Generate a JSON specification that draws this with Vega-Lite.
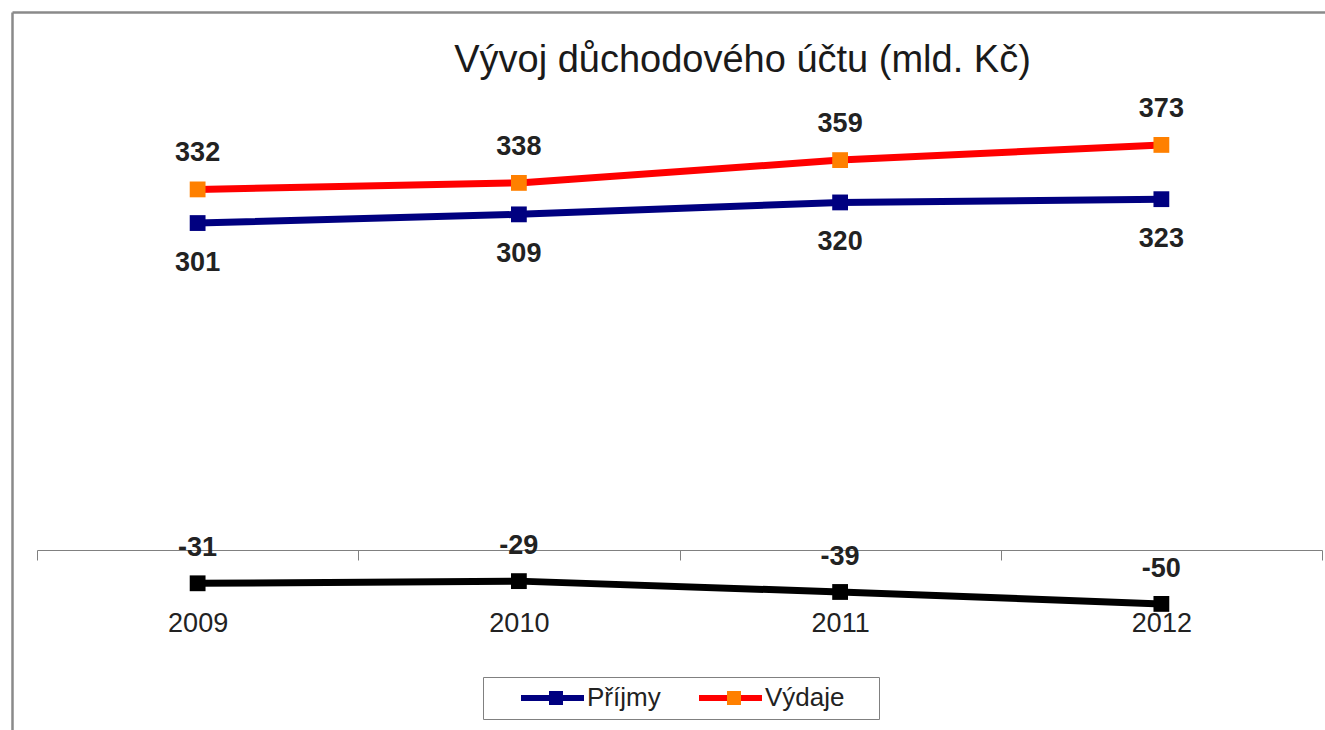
{
  "$schema": "https://vega.github.io/schema/vega-lite/v6.json",
  "autosize": {"type": "none"},
  "padding": {"left": 12, "top": 12, "right": 0, "bottom": 0},
  "width": 1313,
  "height": 718,
  "background": "white",
  "title": {
    "text": "Vývoj důchodového účtu (mld. Kč)",
    "font": "Liberation Sans",
    "fontSize": 38,
    "fontWeight": "normal",
    "color": "#1a1a1a",
    "anchor": "middle",
    "frame": "group",
    "dx": 74,
    "offset": -68
  },
  "data": {
    "values": [
      {"year": "2009", "series": "Příjmy", "value": 301},
      {"year": "2010", "series": "Příjmy", "value": 309},
      {"year": "2011", "series": "Příjmy", "value": 320},
      {"year": "2012", "series": "Příjmy", "value": 323},
      {"year": "2009", "series": "Výdaje", "value": 332},
      {"year": "2010", "series": "Výdaje", "value": 338},
      {"year": "2011", "series": "Výdaje", "value": 359},
      {"year": "2012", "series": "Výdaje", "value": 373},
      {"year": "2009", "series": "Saldo", "value": -31},
      {"year": "2010", "series": "Saldo", "value": -29},
      {"year": "2011", "series": "Saldo", "value": -39},
      {"year": "2012", "series": "Saldo", "value": -50}
    ]
  },
  "resolve": {"scale": {"x": "independent"}, "axis": {"x": "independent"}},
  "layer": [
    {
      "encoding": {
        "x": {
          "field": "year",
          "type": "ordinal",
          "scale": {"type": "band", "range": [25, 1310], "paddingInner": 0, "paddingOuter": 0},
          "axis": {
            "title": null,
            "grid": false,
            "gridColor": "transparent",
            "gridOpacity": 0,
            "gridWidth": 0,
            "orient": "bottom",
            "offset": -180,
            "tickBand": "extent",
            "domainColor": "#808080",
            "domainWidth": 1,
            "tickColor": "#808080",
            "tickWidth": 1,
            "tickSize": 10,
            "labelAngle": 0,
            "labelFont": "Liberation Sans",
            "labelFontSize": 27,
            "labelColor": "#222222",
            "labelPadding": 50
          }
        },
        "y": {
          "field": "value",
          "type": "quantitative",
          "scale": {"domain": [-166.2, 495.5], "nice": false, "zero": false},
          "axis": {
            "orient": "left",
            "title": null,
            "grid": false,
            "ticks": false,
            "labels": false,
            "domain": true,
            "domainColor": "#8a8a8a",
            "domainWidth": 2.5
          }
        }
      },
      "layer": [
        {
          "mark": {"type": "line", "strokeWidth": 7},
          "encoding": {
            "stroke": {
              "field": "series",
              "type": "nominal",
              "scale": {"domain": ["Příjmy", "Výdaje", "Saldo"], "range": ["#000080", "#FF0000", "#000000"]},
              "legend": {
                "title": ".",
                "titleOrient": "right",
                "titleColor": "transparent",
                "titleFontSize": 10,
                "titlePadding": 24,
                "orient": "none",
                "legendX": 471,
                "legendY": 665,
                "direction": "horizontal",
                "values": ["Příjmy", "Výdaje"],
                "padding": 8,
                "strokeColor": "#808080",
                "columnPadding": 8,
                "clipHeight": 26,
                "symbolType": "M-1,0M-0.386,0H0.25M0.568,0H1.045",
                "symbolSize": 7744,
                "symbolStrokeWidth": 6,
                "symbolFillColor": "transparent",
                "symbolOffset": 0,
                "labelOffset": 2,
                "labelFont": "Liberation Sans",
                "labelFontSize": 26,
                "labelColor": "#222222"
              }
            }
          }
        },
        {
          "mark": {"type": "point", "shape": "square", "filled": true, "size": 250, "opacity": 1},
          "encoding": {
            "fill": {
              "field": "series",
              "type": "nominal",
              "scale": {"domain": ["Saldo", "Příjmy", "Výdaje"], "range": ["#000000", "#000080", "#FF8000"]},
              "legend": {
                "title": null,
                "orient": "none",
                "legendX": 471,
                "legendY": 665,
                "direction": "horizontal",
                "values": ["Příjmy", "Výdaje"],
                "padding": 8,
                "columnPadding": 8,
                "clipHeight": 26,
                "symbolType": "M-1,0M0.25,-0.159H0.568V0.159H0.25Z",
                "symbolSize": 7744,
                "symbolStrokeWidth": 6,
                "symbolStrokeColor": "transparent",
                "symbolOpacity": 1,
                "symbolOffset": 0,
                "labelOffset": 2,
                "labelFont": "Liberation Sans",
                "labelFontSize": 26,
                "labelColor": "transparent"
              }
            }
          }
        },
        {
          "transform": [{"filter": "datum.series == 'Výdaje'"}],
          "mark": {"type": "text", "dy": -36, "fontSize": 27, "fontWeight": "bold", "font": "Liberation Sans", "color": "#222222"},
          "encoding": {"text": {"field": "value", "type": "nominal"}}
        },
        {
          "transform": [{"filter": "datum.series == 'Příjmy'"}],
          "mark": {"type": "text", "dy": 40, "fontSize": 27, "fontWeight": "bold", "font": "Liberation Sans", "color": "#222222"},
          "encoding": {"text": {"field": "value", "type": "nominal"}}
        },
        {
          "transform": [{"filter": "datum.series == 'Saldo'"}],
          "mark": {"type": "text", "dy": -35, "fontSize": 27, "fontWeight": "bold", "font": "Liberation Sans", "color": "#222222"},
          "encoding": {"text": {"field": "value", "type": "nominal"}}
        }
      ]
    },
    {
      "mark": {"type": "point", "opacity": 0},
      "encoding": {
        "x": {
          "field": "value",
          "type": "quantitative",
          "scale": {"domain": [-100, 400], "nice": false, "zero": false},
          "axis": {
            "orient": "top",
            "title": null,
            "grid": false,
            "ticks": false,
            "labels": false,
            "domain": true,
            "domainColor": "#8a8a8a",
            "domainWidth": 2.5
          }
        }
      }
    }
  ],
  "config": {
    "font": "Liberation Sans",
    "view": {"stroke": null}
  }
}
